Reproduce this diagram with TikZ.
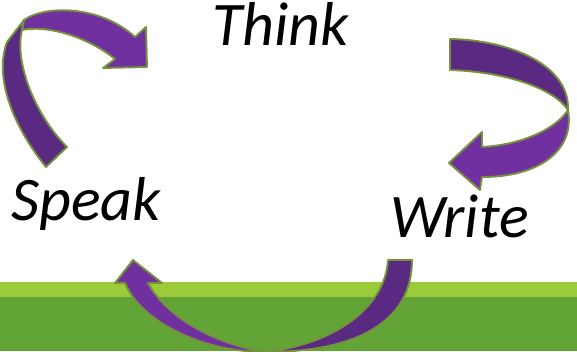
\documentclass[tikz,border=0pt]{standalone}
\usepackage{fontspec}
\setmainfont{Carlito}
\definecolor{lightband}{HTML}{9BCB3B}
\definecolor{darkband}{HTML}{62A436}
\definecolor{purplefront}{HTML}{7030A0}
\definecolor{purpleback}{HTML}{5A2A82}
\definecolor{edgegreen}{HTML}{76923C}
\begin{document}
\begin{tikzpicture}[x=1pt,y=-1pt,
  front/.style={fill=purplefront,draw=edgegreen,line width=1.9pt,line join=round},
  back/.style={fill=purpleback,draw=edgegreen,line width=1.9pt,line join=round},
  word/.style={font=\fontsize{62}{62}\selectfont\itshape,inner sep=0pt,anchor=base}]
\useasboundingbox (0,0) rectangle (577,351);
\clip (0,0) rectangle (577,351);
\fill[white] (0,0) rectangle (577,351);
\fill[lightband] (0,282) rectangle (577,297);
\fill[darkband] (0,297) rectangle (577,351);
% arrow 1 (Speak -> Think)
\draw[back] (46,167) .. controls (16,130) and (-7,80) .. (7,42) -- (24,20) -- (22,30) .. controls (14,62) and (35,115) .. (67,147) -- cycle;
\draw[front] (24,20) .. controls (45,5) and (100,5) .. (135,37) -- (146,27) -- (147,67) -- (103,68) -- (115,59) .. controls (85,35) and (45,25) .. (22,30) -- cycle;
% arrow 2 (Think -> Write)
\draw[back] (450,39) .. controls (510,40) and (570,65) .. (568,110) .. controls (555,90) and (510,72) .. (450,70) -- cycle;
\draw[front] (568,110) .. controls (575,150) and (540,177) .. (482,177) -- (480,190) -- (449,163) -- (482,132) -- (482,147) .. controls (520,145) and (555,130) .. (568,110) -- cycle;
% arrow 3 (Write -> Speak)
\draw[back] (412,260) .. controls (412,320) and (360,352) .. (265,352) .. controls (330,345) and (385,310) .. (388,260) -- cycle;
\draw[front] (265,352) .. controls (200,352) and (140,320) .. (125,283) -- (115,283) -- (133,260) -- (162,283) -- (148,283) .. controls (168,320) and (220,345) .. (265,352) -- cycle;
% words
\node[word] (think) at (280.5,45) {Think};
\node[word] (speak) at (86,220) {Speak};
\node[word] (write) at (459.5,237) {Write};
\end{tikzpicture}
\end{document}
